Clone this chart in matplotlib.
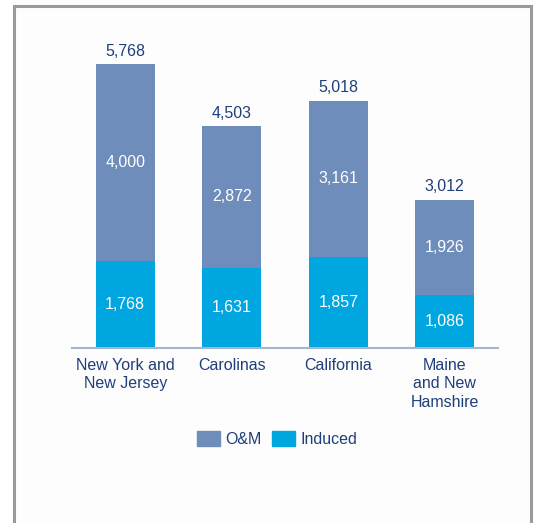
import matplotlib.pyplot as plt
from matplotlib.patches import Rectangle, Patch
from matplotlib.lines import Line2D

plt.rcParams['font.family'] = ['Liberation Sans', 'DejaVu Sans']

# data
regions = ["New York and\nNew Jersey", "Carolinas", "California", "Maine\nand New\nHamshire"]
om = [4000, 2872, 3161, 1926]
induced = [1768, 1631, 1857, 1086]
totals = [5768, 4503, 5018, 3012]

om_color = "#6f8dba"
induced_color = "#00a6e0"
text_color = "#1f3f7a"
fs = 11.5

W, H = 535, 523
fig = plt.figure(figsize=(W / 100, H / 100), dpi=100)
fig.patch.set_facecolor("white")

# panel frame (left, top, right)
fig.patches.append(Rectangle((15 / W, 0), (531 - 15) / W, (H - 6) / H,
                             transform=fig.transFigure, facecolor="#fdfdfd",
                             edgecolor="none", zorder=-5))
frame_kw = dict(transform=fig.transFigure, color="#9a9a9e", linewidth=2.2)
fig.lines.append(Line2D([14 / W, 14 / W], [0, (H - 6) / H], **frame_kw))
fig.lines.append(Line2D([14 / W, 531 / W], [(H - 6) / H, (H - 6) / H], **frame_kw))
fig.lines.append(Line2D([531 / W, 531 / W], [0, (H - 6) / H], **frame_kw))

ax = fig.add_axes([72 / W, (H - 348) / H, (498 - 72) / W, (348 - 30) / H])
ax.set_facecolor("none")
ax.set_zorder(2)

x = range(len(regions))
width = 0.555
ax.bar(x, induced, width, color=induced_color, label="Induced", zorder=2)
ax.bar(x, om, width, bottom=induced, color=om_color, label="O&M", zorder=2)

ax.set_xlim(-0.5, 3.5)
ax.set_ylim(0, 6458)

for i in x:
    ax.text(i, induced[i] / 2, f"{induced[i]:,}", ha="center", va="center",
            color="white", fontsize=fs)
    ax.text(i, induced[i] + om[i] / 2, f"{om[i]:,}", ha="center", va="center",
            color="white", fontsize=fs)
    ax.text(i, totals[i] + 110, f"{totals[i]:,}", ha="center", va="bottom",
            color=text_color, fontsize=fs)

for s in ["top", "right", "left"]:
    ax.spines[s].set_visible(False)
ax.spines["bottom"].set_color("#a3b5d0")
ax.spines["bottom"].set_linewidth(1.5)
ax.set_yticks([])
ax.set_xticks(list(x))
ax.set_xticklabels(regions, color=text_color, fontsize=fs, linespacing=1.3)
ax.tick_params(axis="x", length=0, pad=7)

handles = [Patch(color=om_color, label="O&M"), Patch(color=induced_color, label="Induced")]
fig.legend(handles=handles, loc="center", bbox_to_anchor=(277 / W, (H - 439) / H),
           ncol=2, frameon=False, fontsize=fs, handlelength=1.45, handleheight=1.05,
           handletextpad=0.35, columnspacing=0.6, labelcolor=text_color)

fig.savefig("out.png", dpi=100)
